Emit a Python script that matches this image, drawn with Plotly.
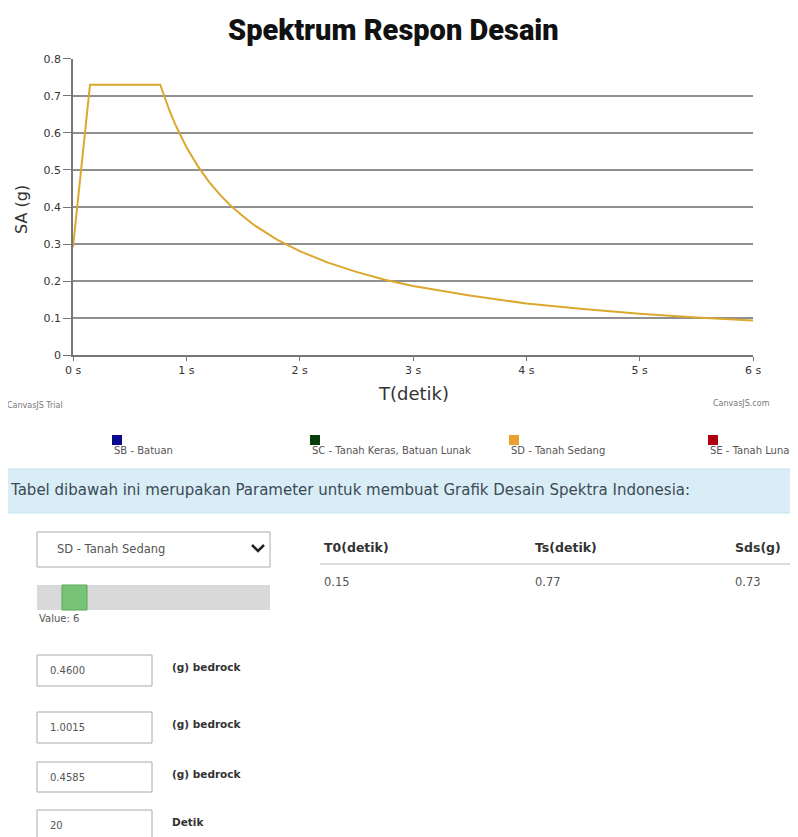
import plotly.graph_objects as go

# ---------------- data ----------------
T_detik = [0.0, 0.15, 0.77, 0.80, 0.85, 0.90, 0.95, 1.00, 1.10, 1.20, 1.30, 1.40,
           1.50, 1.60, 1.80, 2.00, 2.25, 2.50, 2.75, 3.00, 3.50, 4.00, 4.50,
           5.00, 5.50, 6.00]
SA_g = [0.292, 0.730, 0.730, 0.703, 0.661, 0.624, 0.592, 0.562, 0.511, 0.468,
        0.432, 0.401, 0.375, 0.351, 0.312, 0.281, 0.250, 0.225, 0.204, 0.187,
        0.161, 0.140, 0.125, 0.112, 0.102, 0.094]

x_tickvals = [0, 1, 2, 3, 4, 5, 6]
x_ticktext = ["0 s", "1 s", "2 s", "3 s", "4 s", "5 s", "6 s"]
y_tickvals = [0, 0.1, 0.2, 0.3, 0.4, 0.5, 0.6, 0.7, 0.8]
y_ticktext = ["0", "0.1", "0.2", "0.3", "0.4", "0.5", "0.6", "0.7", "0.8"]

legend_names = ["SB - Batuan", "SC - Tanah Keras, Batuan Lunak",
                "SD - Tanah Sedang", "SE - Tanah Lunak"]
legend_colors = ["#0a0a8c", "#0b3d0b", "#e8a030", "#b00010"]

table_headers = ["T0(detik)", "Ts(detik)", "Sds(g)"]
table_values = ["0.15", "0.77", "0.73"]

select_text = "SD - Tanah Sedang"
slider_value = 6
input_values = ["0.4600", "1.0015", "0.4585", "20"]
input_units = ["(g) bedrock", "(g) bedrock", "(g) bedrock", "Detik"]

# ---------------- layout helpers ----------------
OFF = 8                     # page body margin
W, H = 798 - OFF, 837 - OFF


def px(x):
    return (x - OFF) / W


def py(y):
    return 1 - (y - OFF) / H


LINE_COLOR = "#dba82e"
FONT = "DejaVu Sans"

fig = go.Figure()
fig.add_trace(go.Scatter(x=T_detik, y=SA_g, mode="lines",
                         line=dict(color=LINE_COLOR, width=2),
                         name="SD - Tanah Sedang", showlegend=False,
                         hoverinfo="x+y"))

shapes = []
annotations = []


def text(x, y, s, size=10, color="#333", anchor="left", bold=False,
         family=FONT, yanchor="middle", angle=0, weight=None):
    if bold:
        s = "<b>" + s + "</b>"
    f = dict(size=size, color=color, family=family)
    if weight:
        f["weight"] = weight
    annotations.append(dict(x=px(x), y=py(y), xref="paper", yref="paper",
                            text=s, showarrow=False, xanchor=anchor,
                            yanchor=yanchor, textangle=angle, font=f))


def rect(x0, y0, x1, y1, fill="rgba(0,0,0,0)", line="#aaa", lw=1):
    shapes.append(dict(type="rect", xref="paper", yref="paper",
                       x0=px(x0), x1=px(x1), y0=py(y1), y1=py(y0),
                       fillcolor=fill, line=dict(color=line, width=lw),
                       layer="above"))


# title
text(393, 30, "Spektrum Respon Desain", size=29, color="#111", anchor="center",
     family="Roboto", weight=900)
# axis titles
text(22, 210, "SA (g)", size=16, color="#333", anchor="center", angle=-90)
text(414, 393, "T(detik)", size=18, color="#333", anchor="center")
# watermarks
text(5, 405, "CanvasJS Trial", size=8, color="#777")
text(772, 404, "CanvasJS.com", size=8, color="#777", anchor="right")

# legend
leg_x = [112, 310, 509, 708]
for lx, name, col in zip(leg_x, legend_names, legend_colors):
    rect(lx, 435, lx + 10, 445, fill=col, line=col, lw=0)
    text(lx, 451, name, size=10, color="#555")

# info band
rect(-2, 469, 800, 513, fill="#d9edf7", line="#c5e3ef", lw=1)
text(8, 490, "Tabel dibawah ini merupakan Parameter untuk membuat Grafik Desain Spektra Indonesia:",
     size=15, color="#3b4a55")

# select box
shapes.append(dict(type="rect", xref="paper", yref="paper",
                   x0=px(37), x1=px(270), y0=py(567), y1=py(532),
                   fillcolor="white", line=dict(color="#aaa", width=1)))
text(55, 549, select_text, size=11.5, color="#555")
shapes.append(dict(type="path", xref="paper", yref="paper",
                   path="M %f %f L %f %f L %f %f" % (px(252), py(545), px(258), py(551),
                                                     px(264), py(545)),
                   line=dict(color="#222", width=2.5)))

# slider
rect(37, 585, 270, 610, fill="#d9d9d9", line="#d9d9d9", lw=0)
rect(62, 585, 87, 610, fill="#77c477", line="#5aa65a", lw=1)
text(37, 618, "Value: %d" % slider_value, size=10, color="#555")

# inputs
input_y = [(655, 686), (712, 743), (762, 792), (810, 842)]
for (y0, y1), val, unit in zip(input_y, input_values, input_units):
    shapes.append(dict(type="rect", xref="paper", yref="paper",
                       x0=px(37), x1=px(152), y0=py(y1), y1=py(y0),
                       fillcolor="white", line=dict(color="#aaa", width=1)))
    text(48, y0 + 15, val, size=10, color="#555")
    text(170, y0 + 12, unit, size=10.5, color="#333", bold=True)

# table
col_x = [322, 533, 733]
for cx, h, v in zip(col_x, table_headers, table_values):
    text(cx, 547, h, size=12.5, color="#333", bold=True)
    text(cx, 582, v, size=11.5, color="#555")
shapes.append(dict(type="line", xref="paper", yref="paper",
                   x0=px(320), x1=px(800), y0=py(564), y1=py(564),
                   line=dict(color="#bbb", width=1)))

fig.update_layout(
    width=W, height=H,
    margin=dict(l=0, r=0, t=0, b=0),
    paper_bgcolor="white", plot_bgcolor="white",
    showlegend=False,
    shapes=shapes, annotations=annotations,
    xaxis=dict(domain=[px(73), px(753)], range=[0, 6], tickvals=x_tickvals,
               ticktext=x_ticktext, showgrid=False, zeroline=False,
               showline=True, linecolor="#777", linewidth=1.5,
               ticks="outside", ticklen=4, tickcolor="#777", automargin=False,
               tickfont=dict(size=11, color="#333", family=FONT)),
    yaxis=dict(domain=[py(355.3), py(58.7)], range=[0, 0.8], tickvals=y_tickvals,
               ticktext=y_ticktext, showgrid=True, gridcolor="#8f8f8f",
               gridwidth=1.5, zeroline=False, showline=True, linecolor="#777",
               linewidth=1.5, ticks="outside", ticklen=8, tickcolor="#777",
               automargin=False,
               tickfont=dict(size=11, color="#333", family=FONT)),
)

fig.write_html("out.html")
